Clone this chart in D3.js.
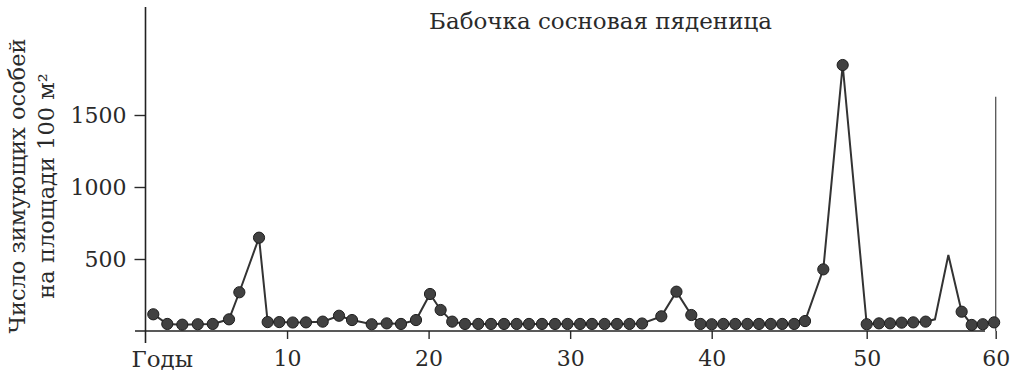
<!DOCTYPE html>
<html>
<head>
<meta charset="utf-8">
<script src="https://d3js.org/d3.v7.min.js"></script>
<style>
  body { margin: 0; background: #fff; }
  svg { display: block; }
  text { font-family: "DejaVu Serif", serif; fill: #2a2a2a; }
</style>
</head>
<body>
<svg></svg>
<script>
// values (years are fractional, the source is hand drawn)
var years = [0.55, 1.54, 2.6, 3.69, 4.75, 5.9, 6.63, 8.02, 8.63, 9.45,
  10.4, 11.34, 12.52, 13.67, 14.59, 15.98, 17.04, 18.05, 19.11, 20.1,
  20.85, 21.67, 22.57, 23.51, 24.41, 25.33, 26.22, 27.09, 28.01, 28.93,
  29.81, 30.7, 31.54, 32.43, 33.31, 34.19, 35.08, 36.44, 37.51, 38.56,
  39.21, 40, 40.75, 41.52, 42.3, 43.05, 43.81, 44.55, 45.32, 46.02,
  47.2, 48.45, 50, 50.95, 51.81, 52.71, 53.61, 54.57, 55.29, 56.33,
  57.36, 58.14, 59, 59.88];
var counts = [116, 49, 44, 47, 49, 81, 269, 648, 62, 62,
  59, 60, 65, 106, 76, 47, 53, 49, 76, 257,
  146, 65, 49, 49, 49, 49, 49, 49, 49, 49,
  49, 49, 49, 49, 49, 49, 52, 102, 273, 111,
  49, 47, 49, 49, 49, 49, 49, 49, 49, 69,
  428, 1847, 47, 53, 53, 58, 60, 65, 81, 528,
  134, 42, 47, 60];
// line vertices drawn without a dot
var noDot = [55.29, 56.33];
// the lone vertical stroke at the end
var stickYear = 60, stickTop = 1627;

var xTicks = [10, 20, 30, 40, 50, 60];
var yTicks = [500, 1000, 1500];
var title = "Бабочка сосновая пяденица";
var yLabel = ["Число зимующих особей", "на площади 100 м²"];
var xLabel = "Годы";

// set the dimensions and margins of the graph
var margin = {top: 7, right: 23, bottom: 57, left: 145.5},
    width = 1019 - margin.left - margin.right,
    height = 388 - margin.top - margin.bottom;

var svg = d3.select("svg")
    .attr("width", width + margin.left + margin.right)
    .attr("height", height + margin.top + margin.bottom)
  .append("g")
    .attr("transform", "translate(" + margin.left + "," + margin.top + ")");

// the printed axis is not evenly spaced, so the scale follows its ticks
var x = d3.scaleLinear()
    .domain([0, 40, 50, 60])
    .range([0, 566.2, 721.2, 850.2]);

var y = d3.scaleLinear()
    .domain([0, 2250])
    .range([height, 0]);

// axes
var xAxis = svg.append("g")
    .attr("transform", "translate(0," + height + ")")
    .call(d3.axisBottom(x).tickValues(xTicks).tickSize(8).tickPadding(11)
      .tickFormat(d3.format("d")));
xAxis.select(".domain").remove();

var yAxis = svg.append("g")
    .call(d3.axisLeft(y).tickValues(yTicks).tickSize(11).tickPadding(8)
      .tickFormat(d3.format("d")));
yAxis.select(".domain").remove();

svg.selectAll(".tick line").attr("stroke", "#2a2a2a").attr("stroke-width", 1.4);
svg.selectAll(".tick text")
    .style("font-size", "22px")
    .style("font-family", "DejaVu Serif, serif")
    .attr("fill", "#2a2a2a");

svg.append("line")
    .attr("x1", -10.5).attr("x2", width - 11)
    .attr("y1", y(0)).attr("y2", y(0))
    .attr("stroke", "#222").attr("stroke-width", 1.6);

svg.append("line")
    .attr("x1", 0).attr("x2", 0)
    .attr("y1", 0).attr("y2", y(0) + 12)
    .attr("stroke", "#222").attr("stroke-width", 1.6);

// vertical stroke at year 60
svg.append("line")
    .attr("x1", x(stickYear)).attr("x2", x(stickYear))
    .attr("y1", y(stickTop)).attr("y2", y(0))
    .attr("stroke", "#555").attr("stroke-width", 1.3);

// the series
var pts = years.map(function(d, i) { return {year: d, count: counts[i]}; });

svg.append("path")
    .datum(pts)
    .attr("fill", "none")
    .attr("stroke", "#333")
    .attr("stroke-width", 2)
    .attr("d", d3.line()
      .x(function(d) { return x(d.year); })
      .y(function(d) { return y(d.count); }));

svg.append("g")
  .selectAll("circle")
  .data(pts.filter(function(d) { return noDot.indexOf(d.year) < 0; }))
  .enter()
  .append("circle")
    .attr("cx", function(d) { return x(d.year); })
    .attr("cy", function(d) { return y(d.count); })
    .attr("r", 5.6)
    .attr("fill", "#414141")
    .attr("stroke", "#1e1e1e")
    .attr("stroke-width", 1);

// texts
svg.append("text")
    .attr("x", 455)
    .attr("y", 22)
    .attr("text-anchor", "middle")
    .style("font-size", "23px")
    .text(title);

svg.append("text")
    .attr("x", -14)
    .attr("y", height + 36)
    .style("font-size", "23px")
    .text(xLabel);

var yl = svg.append("g")
    .attr("transform", "translate(" + (-margin.left) + ",179) rotate(-90)");
yl.selectAll("text")
  .data(yLabel)
  .enter()
  .append("text")
    .attr("x", 0)
    .attr("y", function(d, i) { return 25 + i * 29; })
    .attr("text-anchor", "middle")
    .style("font-size", "22.5px")
    .text(function(d) { return d; });
</script>
</body>
</html>
